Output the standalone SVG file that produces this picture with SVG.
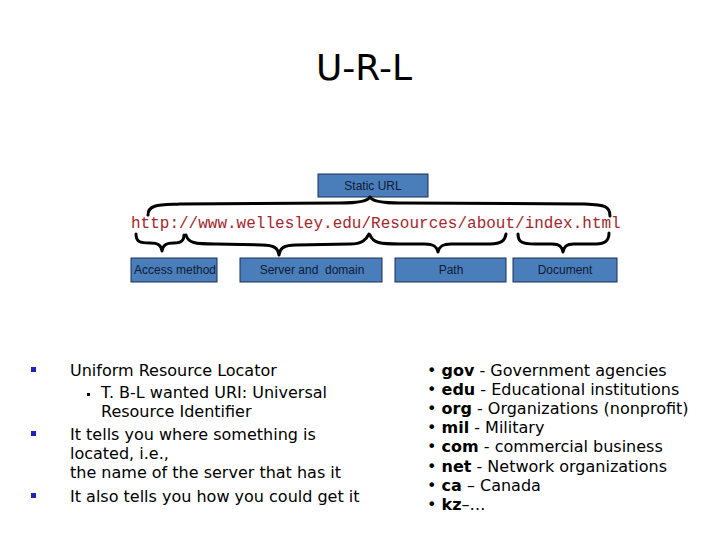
<svg xmlns="http://www.w3.org/2000/svg" width="720" height="540" viewBox="0 0 720 540">
<style>
.box{fill:#4a7ebb;stroke:#1c2f55;stroke-width:1}
.lbl{font-family:"Liberation Sans",Arial,sans-serif;font-size:12px;fill:#0d1a33;text-anchor:middle}
.brace{fill:none;stroke:#000;stroke-width:3;stroke-linecap:round;stroke-linejoin:round}
.body{font-family:"DejaVu Sans",Verdana,sans-serif;font-size:16px;fill:#000}
.url{font-family:"Liberation Mono","Courier New",monospace;font-size:16px;fill:#a8252b}
.bul{fill:#2222c0}
</style>
<rect width="720" height="540" fill="#fff"/>
<text x="364" y="80" font-family="DejaVu Sans,Verdana,sans-serif" font-size="36" text-anchor="middle" fill="#000">U-R-L</text>

<g id="static-url"><rect class="box" x="318" y="174" width="110" height="23"/><text class="lbl" x="373" y="190">Static URL</text></g>
<g id="url-text"><text class="url" x="131" y="228">http://www.wellesley.edu/Resources/about/index.html</text></g>
<g id="access-method"><rect class="box" x="131" y="258" width="86" height="24"/><text class="lbl" x="175" y="274">Access method</text></g>
<g id="server-domain"><rect class="box" x="240" y="258" width="142" height="24"/><text class="lbl" x="312" y="274" xml:space="preserve">Server and  domain</text></g>
<g id="path"><rect class="box" x="395" y="258" width="111" height="24"/><text class="lbl" x="451" y="274">Path</text></g>
<g id="document"><rect class="box" x="513" y="258" width="104" height="24"/><text class="lbl" x="565" y="274">Document</text></g>

<g id="connectors">
<path class="brace" d="M148,215 C148,204 160,205 180,204 L340,203 C360,203 368,201 370,197 C372,201 380,203 400,203 L585,204 C605,205 610,206 610,216"/>
<path class="brace" d="M136,234 C136,242 140,243 150,243 C158,243 161,245 162,251 C163,245 166,243 174,243 C182,243 184,240 184,235"/>
<path class="brace" d="M186,235 C188,243 195,244 215,244 L262,245 C274,245 278,248 279,255 C280,248 284,245 296,245 L350,244 C362,244 366,240 369,234"/>
<path class="brace" d="M370,235 C373,243 380,244 400,244 L425,244 C434,244 437,247 438,252 C439,247 442,244 451,244 L490,244 C502,244 505,240 506,234"/>
<path class="brace" d="M518,234 C518,242 522,244 535,244 L552,244 C560,244 562,247 563,252 C564,247 566,244 574,244 L596,244 C606,244 609,240 609,233"/>
</g>

<g id="left-list" class="body">
<rect class="bul" x="31" y="367" width="5" height="5"/>
<text x="70" y="376">Uniform Resource Locator</text>
<rect x="87" y="393" width="3" height="3" fill="#000"/>
<text x="101" y="398">T. B-L wanted URI: Universal</text>
<text x="101" y="417">Resource Identifier</text>
<rect class="bul" x="31" y="431" width="5" height="5"/>
<text x="70" y="440">It tells you where something is</text>
<text x="70" y="459">located, i.e.,</text>
<text x="70" y="478">the name of the server that has it</text>
<rect class="bul" x="31" y="493" width="5" height="5"/>
<text x="70" y="502">It also tells you how you could get it</text>
</g>

<g id="right-list" class="body">
<text x="427" y="376">• <tspan font-weight="bold">gov</tspan> - Government agencies</text>
<text x="427" y="395">• <tspan font-weight="bold">edu</tspan> - Educational institutions</text>
<text x="427" y="414">• <tspan font-weight="bold">org</tspan> - Organizations (nonprofit)</text>
<text x="427" y="433">• <tspan font-weight="bold">mil</tspan> - Military</text>
<text x="427" y="452">• <tspan font-weight="bold">com</tspan> - commercial business</text>
<text x="427" y="472">• <tspan font-weight="bold">net</tspan> - Network organizations</text>
<text x="427" y="491">• <tspan font-weight="bold">ca</tspan> – Canada</text>
<text x="427" y="510">• <tspan font-weight="bold">kz</tspan>–…</text>
</g>
</svg>
